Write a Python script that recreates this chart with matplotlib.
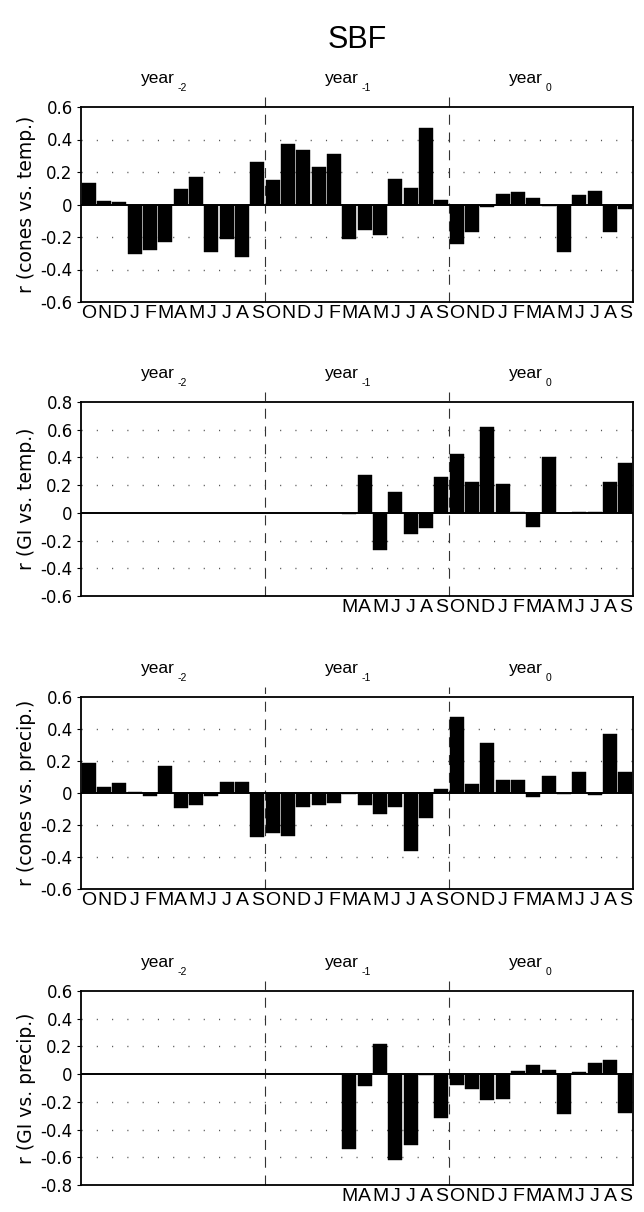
import numpy as np
import matplotlib
matplotlib.use("Agg")
import matplotlib.pyplot as plt

plt.rcParams['font.family'] = ['DejaVu Sans']
plt.rcParams['axes.unicode_minus'] = False

months = ['O', 'N', 'D', 'J', 'F', 'M', 'A', 'M', 'J', 'J', 'A', 'S'] * 3
year_word = 'year'
year_subs = ['-2', '-1', '0']
title = 'SBF'
nan = np.nan

cones_temp = [0.13, 0.02, 0.015, -0.305, -0.28, -0.23, 0.097, 0.17, -0.295, -0.215, -0.32, 0.26,
              0.15, 0.37, 0.336, 0.233, 0.31, -0.21, -0.155, -0.186, 0.16, 0.10, 0.468, 0.025,
              -0.24, -0.167, -0.015, 0.066, 0.078, 0.041, -0.008, -0.293, 0.06, 0.082, -0.171, -0.025]

gi_temp = [nan] * 17 + [-0.01, 0.27, -0.27, 0.15, -0.15, -0.108, 0.257,
                        0.425, 0.224, 0.62, 0.21, 0.005, -0.10, 0.406, 0.0, 0.003, 0.005, 0.224, 0.36]

cones_precip = [0.185, 0.037, 0.062, 0.008, -0.02, 0.168, -0.092, -0.074, -0.016, 0.07, 0.066, -0.273,
                -0.25, -0.267, -0.088, -0.074, -0.062, -0.004, -0.078, -0.131, -0.086, -0.36, -0.154, 0.027,
                0.474, 0.057, 0.314, 0.082, 0.084, -0.027, 0.107, -0.004, 0.129, -0.014, 0.37, 0.133]

gi_precip = [nan] * 17 + [-0.543, -0.084, 0.219, -0.62, -0.514, -0.005, -0.315,
                          -0.075, -0.11, -0.187, -0.18, 0.024, 0.065, 0.029, -0.29, 0.014, 0.082, 0.10, -0.28]

panels = [
    (cones_temp, 'r (cones vs. temp.)', (-0.6, 0.6), 36),
    (gi_temp, 'r (GI vs. temp.)', (-0.6, 0.8), 19),
    (cones_precip, 'r (cones vs. precip.)', (-0.6, 0.6), 36),
    (gi_precip, 'r (GI vs. precip.)', (-0.8, 0.6), 19),
]

W, H = 644, 1212
fig = plt.figure(figsize=(W / 100, H / 100), dpi=100)

tops = [107, 402, 697, 991]
bots = [302, 596, 889, 1185]
left_px, right_px = 81, 633

fig.text(357 / W, 1 - 40 / H, title, ha='center', va='center', fontsize=22,
         family='Liberation Sans')

for (vals, ylabel, (ymin, ymax), nlab), top, bot in zip(panels, tops, bots):
    ax = fig.add_axes([left_px / W, 1 - bot / H, (right_px - left_px) / W, (bot - top) / H])
    x = np.arange(36)
    v = np.array(vals, dtype=float)
    ax.bar(x, v, width=0.9, color='black', edgecolor='black', linewidth=0.3, zorder=3)
    ax.set_xlim(-0.5, 35.5)
    ax.set_ylim(ymin, ymax)
    ax.axhline(0, color='black', lw=1.4, zorder=4)
    ticks = np.round(np.arange(ymin, ymax + 0.001, 0.2), 1)
    ax.set_yticks(ticks)
    ax.set_yticklabels(['0' if abs(t) < 1e-9 else f'{t:.1f}' for t in ticks])
    for t in ticks:
        if abs(t) > 1e-9 and ymin < t < ymax:
            ax.axhline(t, color='#555555', lw=1.0, dashes=(0.8, 10.2), zorder=1)
    labs = [''] * (36 - nlab) + months[36 - nlab:]
    ax.set_xticks(x)
    ax.set_xticklabels(labs, fontsize=14, family='Liberation Sans')
    ax.tick_params(axis='x', length=0, pad=2)
    ax.tick_params(axis='y', direction='out', length=3, width=0.8, labelsize=12, pad=3)
    ax.set_ylabel(ylabel, fontsize=13.5, labelpad=3)
    for s in ax.spines.values():
        s.set_linewidth(1.3)
    for xb in (11.5, 23.5):
        ax.axvline(xb, ymin=0, ymax=1.05, color='#333333', lw=0.8, dashes=(9, 7), clip_on=False, zorder=2)
    for i, sub in enumerate(year_subs):
        xc = 5.5 + 12 * i
        ax.annotate(year_word, xy=(xc, 1.0), xycoords=('data', 'axes fraction'),
                    xytext=(1.5, 17), textcoords='offset points', ha='right', va='baseline',
                    fontsize=12.5, family='Liberation Sans')
        ax.annotate(sub, xy=(xc, 1.0), xycoords=('data', 'axes fraction'),
                    xytext=(3, 11.5), textcoords='offset points', ha='left', va='baseline',
                    fontsize=7.5, family='Liberation Sans')

fig.savefig('out.png', dpi=100)
